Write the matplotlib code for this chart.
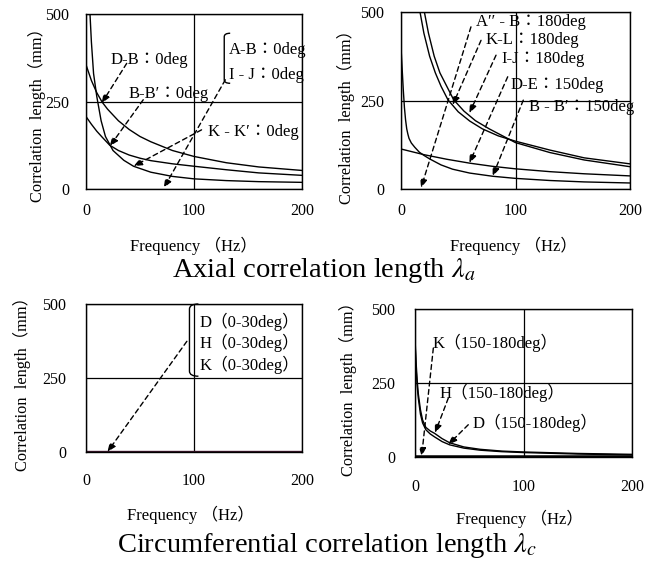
import matplotlib
matplotlib.use("Agg")
import matplotlib.pyplot as plt
from matplotlib.path import Path
from matplotlib.patches import PathPatch

plt.rcParams['font.family'] = ['Liberation Serif', 'Noto Sans CJK JP', 'DejaVu Sans']
plt.rcParams['mathtext.fontset'] = 'stix'

# ---- data (frequency Hz, correlation length mm) ----
# axial, 0 deg
ax0_steep_x = [3.7, 5, 7, 10, 14, 18, 25, 35, 44, 60, 80, 100, 130, 160, 200]
ax0_steep_y = [500, 420, 330, 264, 195, 150, 110, 82, 65, 48, 36, 29, 24, 21, 19]
ax0_top_x = [0, 5, 10, 15, 20, 30, 40, 50, 60, 80, 100, 130, 160, 200]
ax0_top_y = [355, 310, 275, 248, 228, 195, 170, 150, 135, 110, 93, 75, 63, 53]
ax0_mid_x = [0, 5, 10, 15, 22, 30, 40, 50, 60, 80, 100, 130, 160, 200]
ax0_mid_y = [207, 185, 165, 148, 125, 110, 97, 88, 81, 72, 65, 55, 46, 39]

# axial, 150/180 deg
ax180_up_x = [16.6, 20, 25, 30, 35, 41, 50, 60, 71, 85, 100, 130, 160, 200]
ax180_up_y = [500, 440, 375, 328, 290, 252, 218, 192, 170, 150, 135, 110, 88, 71]
ax180_lo_x = [20.4, 24, 29, 34, 40, 46, 55, 65, 77, 90, 100, 130, 160, 200]
ax180_lo_y = [500, 440, 375, 328, 290, 252, 220, 193, 170, 148, 131, 103, 82, 63]
ax180_steep_x = [0, 1, 2, 3, 4, 5, 6, 7, 9, 12, 16, 20, 25, 35, 45, 60, 80, 100, 130, 160, 200]
ax180_steep_y = [401, 340, 280, 230, 195, 170, 155, 143, 130, 118, 104, 95, 85, 68, 56, 45, 36, 30, 24, 20, 17]
ax180_flat_x = [0, 20, 40, 60, 80, 100, 130, 160, 200]
ax180_flat_y = [113, 97, 84, 73, 64, 57, 49, 43, 37]

# circumferential, 0-30 deg (D, H, K all near zero)
ci0_x = [0, 50, 100, 150, 200]
ci0_d = [2, 2, 2, 2, 2]
ci0_h = [1.5, 1.5, 1.5, 1.5, 1.5]
ci0_k = [1, 1, 1, 1, 1]

# circumferential, 150-180 deg
ci180_x = [0, 1, 2, 3, 5, 7, 10, 14, 18, 25, 32, 45, 60, 80, 100, 150, 200]
ci180_h = [400, 320, 260, 215, 160, 125, 100, 88, 80, 62, 48, 34, 26, 20, 17, 12, 9]
ci180_d = [390, 300, 240, 200, 145, 115, 92, 78, 68, 52, 41, 30, 23, 18, 15, 10, 7]
ci180_k_x = [0, 50, 100, 150, 200]
ci180_k = [3, 3, 3, 3, 3]

ylabel = 'Correlation  length（mm）'
xlabel = 'Frequency （Hz）'

W, H = 666, 562
fig = plt.figure(figsize=(W / 100, H / 100), dpi=100)


def px_axes(l, t, r, b):
    return fig.add_axes([l / W, 1 - b / H, (r - l) / W, (b - t) / H])


def style(ax, xpad, ypad):
    ax.set_xlim(0, 200)
    ax.set_ylim(0, 500)
    ax.set_xticks([0, 100, 200])
    ax.set_yticks([0, 250, 500])
    ax.grid(True, color='black', lw=0.9)
    ax.tick_params(length=0, labelsize=11.5)
    ax.tick_params(axis='x', pad=xpad)
    ax.tick_params(axis='y', pad=ypad)
    for s in ax.spines.values():
        s.set_linewidth(1.0)


def arrow(ax, start, end):
    ax.annotate('', xy=end, xytext=start, annotation_clip=False,
                arrowprops=dict(arrowstyle='-|>,head_length=0.5,head_width=0.2',
                                linestyle=(0, (3.5, 2.5)), lw=1.0, color='black',
                                shrinkA=0, shrinkB=0))


def bracket(ax, x, y0, y1, w):
    # rounded left bracket drawn in data coords
    r = (y1 - y0) * 0.07
    verts = [(x + w, y1), (x, y1), (x, y1 - r), (x, y0 + r), (x, y0), (x + w, y0)]
    codes = [Path.MOVETO, Path.CURVE3, Path.CURVE3, Path.LINETO, Path.CURVE3, Path.CURVE3]
    ax.add_patch(PathPatch(Path(verts, codes), fill=False, lw=1.0, clip_on=False))


def label(ax, x, y, s):
    ax.text(x, y, s, fontsize=12, ha='left', va='center', clip_on=False)


lw = 1.0

# ---- top left ----
a = px_axes(86, 14, 302, 189)
style(a, 10, 12)
a.plot(ax0_steep_x, ax0_steep_y, color='black', lw=lw)
a.plot(ax0_top_x, ax0_top_y, color='black', lw=lw)
a.plot(ax0_mid_x, ax0_mid_y, color='black', lw=lw)
label(a, 22.3, 369, 'D-B：0deg')
label(a, 39.3, 271, 'B-B′：0deg')
label(a, 132, 397, 'A-B：0deg')
label(a, 132, 326, 'I - J：0deg')
label(a, 113.4, 164, 'K - K′：0deg')
arrow(a, (37.7, 359), (14.5, 245))
arrow(a, (53, 255), (22, 122))
arrow(a, (129, 312), (72, 3))
arrow(a, (107, 169), (44, 65))
bracket(a, 128, 302, 445, 5.5)

# ---- top right ----
b = px_axes(401, 12, 630, 189)
style(b, 10, 12)
b.plot(ax180_up_x, ax180_up_y, color='black', lw=lw)
b.plot(ax180_lo_x, ax180_lo_y, color='black', lw=lw)
b.plot(ax180_steep_x, ax180_steep_y, color='black', lw=lw)
b.plot(ax180_flat_x, ax180_flat_y, color='black', lw=lw)
label(b, 65.5, 472, 'A′′ - B：180deg')
label(b, 73.7, 422, 'K-L：180deg')
label(b, 87.3, 366, 'I-J：180deg')
label(b, 96, 294, 'D-E：150deg')
label(b, 112, 233, 'B - B′：150deg')
arrow(b, (61.1, 458), (17.5, 3))
arrow(b, (69.9, 420), (45.1, 237))
arrow(b, (83, 378), (59.7, 214))
arrow(b, (93.2, 317), (59.7, 73))
arrow(b, (106.8, 251), (80, 36))

# ---- bottom left ----
c = px_axes(86, 304, 302, 452)
style(c, 15, 14)
c.plot(ci0_x, ci0_d, color='#5a2040', lw=lw)
c.plot(ci0_x, ci0_h, color='black', lw=lw)
c.plot(ci0_x, ci0_k, color='black', lw=lw)
label(c, 105, 441, 'D（0-30deg）')
label(c, 105, 368, 'H（0-30deg）')
label(c, 105, 295, 'K（0-30deg）')
arrow(c, (93.4, 374), (19.8, 0))
bracket(c, 95.8, 256, 500, 8.3)

# ---- bottom right ----
d = px_axes(415, 309, 632, 457)
style(d, 16, 14)
d.plot(ci180_x, ci180_h, color='black', lw=lw)
d.plot(ci180_x, ci180_d, color='black', lw=lw)
d.plot(ci180_k_x, ci180_k, color='black', lw=1.8)
label(d, 16.5, 385, 'K（150-180deg）')
label(d, 22.5, 216, 'H（150-180deg）')
label(d, 53, 115, 'D（150-180deg）')
arrow(d, (16.9, 368), (6.1, 2))
arrow(d, (30.7, 199), (18.4, 81))
arrow(d, (49.1, 109), (30.7, 42))

# ---- axis labels and titles (pixel positions) ----
def ftext(x, y, s, **kw):
    fig.text(x / W, 1 - y / H, s, ha='center', va='center', **kw)


for x, y in [(37, 111), (346, 113), (22, 380), (348, 385)]:
    ftext(x, y, ylabel, rotation=90, fontsize=11.8)
for x, y in [(193, 246), (514, 246), (191, 515), (520, 519)]:
    ftext(x, y, xlabel, fontsize=12)

ftext(324, 271, r'Axial correlation length $\lambda_a$', fontsize=20.5)
ftext(327, 546, r'Circumferential correlation length $\lambda_c$', fontsize=20.5)

fig.savefig('out.png', dpi=100)
